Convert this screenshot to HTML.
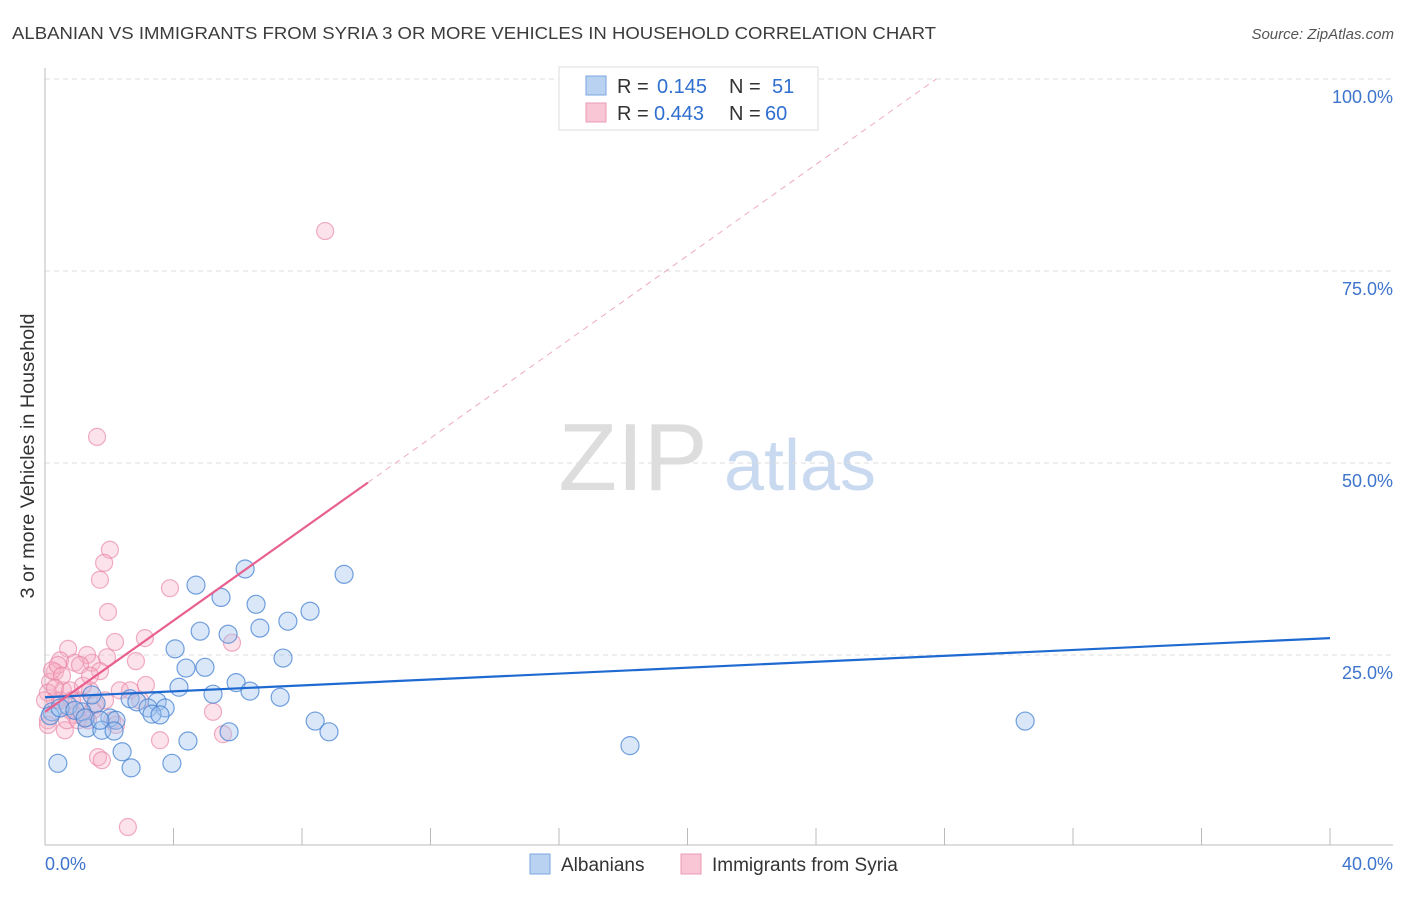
<!DOCTYPE html>
<html><head><meta charset="utf-8"><style>
body{margin:0;background:#fff;font-family:"Liberation Sans",sans-serif;}
svg text{font-family:"Liberation Sans",sans-serif;}
</style></head><body>
<svg id="chart" width="1406" height="892" xmlns="http://www.w3.org/2000/svg">
<text x="12" y="39" font-size="17.5" fill="#3c3c3c" textLength="924" lengthAdjust="spacingAndGlyphs">ALBANIAN VS IMMIGRANTS FROM SYRIA 3 OR MORE VEHICLES IN HOUSEHOLD CORRELATION CHART</text>
<text x="1394" y="39" font-size="15" fill="#555" text-anchor="end" font-style="italic">Source: ZipAtlas.com</text>
<text x="633" y="490" font-size="96" fill="#ddd" text-anchor="middle" font-family="Liberation Serif, serif">ZIP</text>
<text x="800" y="490" font-size="72" fill="#c9daf0" text-anchor="middle">atlas</text>
<g id="grid"></g>
<g id="axes"></g>
<g id="points"></g>
<g id="lines"></g>
<text transform="translate(34,456) rotate(-90)" font-size="19" fill="#333" text-anchor="middle" textLength="285" lengthAdjust="spacingAndGlyphs">3 or more Vehicles in Household</text>
<g>
<rect x="559" y="67" width="259" height="63" fill="#fff" stroke="#ddd"/>
<rect x="586" y="76" width="20" height="19" fill="#b9d2f2" stroke="#7aa5e0"/>
<rect x="586" y="103" width="20" height="19" fill="#f9c6d5" stroke="#eb9ab4"/>
<text x="617" y="93" font-size="20" fill="#333">R = </text><text x="657" y="93" font-size="20" fill="#2f6fcf">0.145</text>
<text x="729" y="93" font-size="20" fill="#333">N = </text><text x="772" y="93" font-size="20" fill="#2f6fcf">51</text>
<text x="617" y="120" font-size="20" fill="#333">R = </text><text x="654" y="120" font-size="20" fill="#2f6fcf">0.443</text>
<text x="729" y="120" font-size="20" fill="#333">N = </text><text x="765" y="120" font-size="20" fill="#2f6fcf">60</text>
</g>
<g>
<rect x="530" y="854" width="20" height="20" fill="#b9d2f2" stroke="#7aa5e0"/>
<text x="561" y="871" font-size="19" fill="#333">Albanians</text>
<rect x="681" y="854" width="20" height="20" fill="#f9c6d5" stroke="#eb9ab4"/>
<text x="712" y="871" font-size="19" fill="#333">Immigrants from Syria</text>
</g>
</svg>
<script>
const yTicks=[25,50,75,100];
const yTickLabels=["25.0%","50.0%","75.0%","100.0%"];
const xTickLabels=["0.0%","40.0%"];
const albX=[4.70,6.23,9.31,5.48,6.57,8.25,7.56,4.83,6.69,5.70,4.05,7.41,4.39,4.98,4.17,5.95,6.38,5.23,7.32,2.65,2.86,3.49,3.74,3.21,3.33,3.58,1.59,1.46,0.22,0.72,1.15,2.02,2.21,8.41,8.84,5.73,4.45,1.31,1.77,2.15,2.40,2.68,3.95,0.40,18.21,30.51,0.16,0.47,0.93,1.25,1.71];
const albY=[34.1,36.2,35.5,32.5,31.6,30.7,29.4,28.1,28.5,27.7,25.8,24.6,23.3,23.4,20.8,21.4,20.3,19.9,19.5,19.3,18.9,18.9,18.1,18.1,17.3,17.2,18.7,19.8,17.6,18.4,17.6,16.8,16.5,16.4,15.0,15.0,13.8,15.5,15.2,15.1,12.4,10.3,10.9,10.9,13.2,16.4,17.1,18.1,17.8,16.8,16.5];
const syrX=[2.02,1.84,1.71,1.96,3.89,1.62,8.72,3.11,5.82,2.18,0.72,1.46,2.83,1.93,1.31,0.47,0.31,0.93,0.56,0.16,0.31,0.78,1.09,1.40,1.71,2.33,0.47,0.09,0.62,1.49,2.65,2.96,3.14,2.09,2.21,5.23,3.58,5.54,1.65,1.77,2.58,0.09,0.22,0.40,0.93,1.25,1.56,0.78,0.0,0.09,1.09,0.53,1.87,1.34,0.68,0.31,0.84,1.18,1.03,1.40];
const syrY=[38.7,37.0,34.8,30.6,33.7,53.4,80.2,27.2,26.6,26.7,25.8,24.0,24.2,24.7,25.0,24.3,22.8,24.0,20.4,21.5,19.1,17.8,19.1,20.4,22.9,20.4,19.1,16.5,15.2,17.8,20.4,19.1,21.1,16.5,15.9,17.6,13.9,14.7,11.7,11.3,2.6,20.1,23.0,23.7,17.2,16.8,18.5,20.4,19.1,15.9,23.7,22.3,19.1,16.5,16.5,20.7,19.1,21.0,16.5,22.3];
const albLine=[19.5,27.2];
const syrLine=[17.6,2.97];
const NS="http://www.w3.org/2000/svg";
const X=v=>45+v/40*1285;
const Y=v=>847-v/100*768;
function mk(t,a,p){const e=document.createElementNS(NS,t);for(const k in a)e.setAttribute(k,a[k]);document.getElementById(p).appendChild(e);return e;}
yTicks.forEach((t,i)=>{
 const g=mk('line',{x1:45,x2:1393,y1:Y(t),y2:Y(t),stroke:'#ddd','stroke-dasharray':'5,4'},'grid');
 
 
 const l=mk('text',{x:1393,y:Y(t)+24,'font-size':18,fill:'#3d74cc','text-anchor':'end'},'axes');
 l.textContent=yTickLabels[i];
 
 
});
mk('line',{x1:45,x2:45,y1:68,y2:845,stroke:'#bbb'},'axes');
mk('line',{x1:45,x2:1393,y1:845,y2:845,stroke:'#bbb'},'axes');
for(let i=1;i<=10;i++){const t=mk('line',{x1:X(i*4),x2:X(i*4),y1:828,y2:845,stroke:'#bbb'},'axes');
 
 }
const x0=mk('text',{x:45,y:870,'font-size':18,fill:'#3d74cc'},'axes');x0.textContent=xTickLabels[0];


const x1=mk('text',{x:1393,y:870,'font-size':18,fill:'#3d74cc','text-anchor':'end'},'axes');x1.textContent=xTickLabels[1];


syrX.forEach((v,i)=>{const c=mk('circle',{cx:X(v),cy:Y(syrY[i]),r:8.5,fill:'rgba(246,175,198,0.35)',stroke:'rgba(232,130,163,0.65)','stroke-width':1.2},'points');
 
 });
albX.forEach((v,i)=>{const c=mk('circle',{cx:X(v),cy:Y(albY[i]),r:9,fill:'rgba(160,195,238,0.4)',stroke:'rgba(70,130,210,0.75)','stroke-width':1.2},'points');
 
 });
const bl=mk('line',{x1:X(0),y1:Y(albLine[0]),x2:X(40),y2:Y(albLine[1]),stroke:'#1f6ad1','stroke-width':2.2},'lines');


const xe=10.05, xd=(100-syrLine[0])/syrLine[1];
const pl=mk('line',{x1:X(0),y1:Y(syrLine[0]),x2:X(xe),y2:Y(syrLine[0]+syrLine[1]*xe),stroke:'#e8608f','stroke-width':2.2},'lines');


const pd=mk('line',{x1:X(xe),y1:Y(syrLine[0]+syrLine[1]*xe),x2:X(xd),y2:Y(100),stroke:'#eeaac0','stroke-width':1,'stroke-dasharray':'6,5'},'lines');


</script>
</body></html>
